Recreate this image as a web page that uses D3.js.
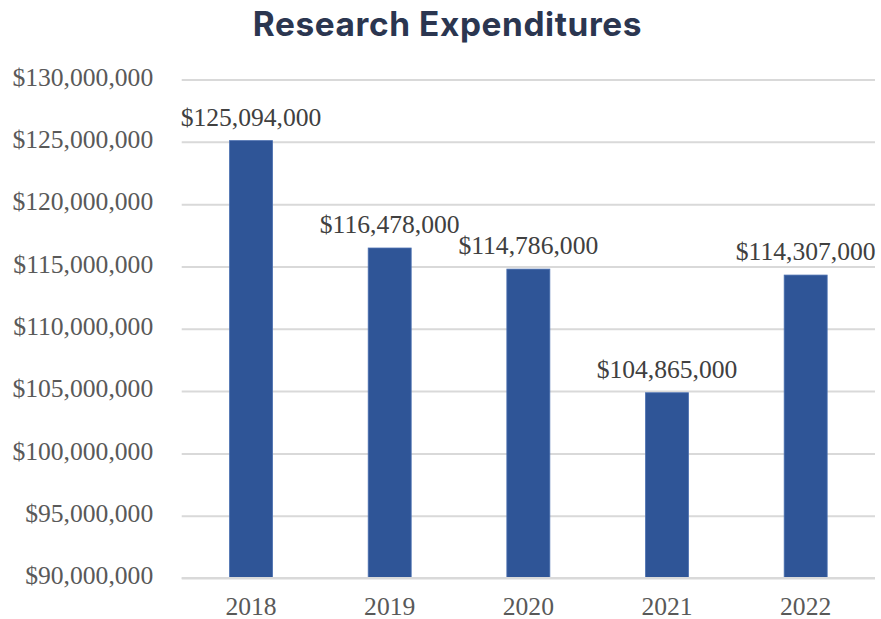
<!DOCTYPE html>
<html>
<head>
<meta charset="utf-8">
<script src="https://cdn.jsdelivr.net/npm/d3@7"></script>
<style>
  html, body { margin: 0; padding: 0; background: #fff; }
  svg { display: block; }
</style>
</head>
<body>
<svg id="chart" width="881" height="619"></svg>
<script>
// Annual research expenditures (USD)
const years = ["2018", "2019", "2020", "2021", "2022"];
const expenditures = [125094000, 116478000, 114786000, 104865000, 114307000];
const yTicks = [90000000, 95000000, 100000000, 105000000, 110000000, 115000000, 120000000, 125000000, 130000000];

const W = 881, H = 619;
const margin = { top: 79.5, right: 6, bottom: 41, left: 181.7 };

const svg = d3.select("#chart");
const serif = "'Liberation Serif', 'Times New Roman', serif";
const labelSize = 25.6;
const money = d3.format("$,");

const x = d3.scaleBand()
  .domain(years)
  .range([margin.left, W - margin.right])
  .paddingInner(0.69)
  .paddingOuter(0.345);

const y = d3.scaleLinear()
  .domain([90000000, 130000000])
  .range([H - margin.bottom, margin.top]);

// Title
svg.append("text")
  .attr("x", 447.5)
  .attr("y", 36)
  .attr("text-anchor", "middle")
  .attr("font-family", "Inter, 'Open Sans', sans-serif")
  .attr("font-weight", 700)
  .attr("font-size", 33.4)
  .attr("letter-spacing", 0.6)
  .attr("fill", "#2b3650")
  .text("Research Expenditures");

// Horizontal gridlines with dollar tick labels
const yAxis = d3.axisLeft(y)
  .tickValues(yTicks)
  .tickSize(-(W - margin.right - margin.left))
  .tickPadding(28.5)
  .tickFormat(money);

const gy = svg.append("g")
  .attr("transform", `translate(${margin.left},0)`)
  .call(yAxis);
gy.select(".domain").remove();
gy.selectAll(".tick line").attr("stroke", "#d9d9d9").attr("stroke-width", 2);
gy.selectAll(".tick text")
  .attr("dy", "0.22em")
  .attr("font-family", serif)
  .attr("font-size", labelSize)
  .attr("fill", "#595959");

// Bars
svg.append("g")
  .selectAll("rect")
  .data(years)
  .join("rect")
  .attr("x", d => x(d))
  .attr("width", x.bandwidth())
  .attr("y", (d, i) => y(expenditures[i]))
  .attr("height", (d, i) => y(90000000) - y(expenditures[i]))
  .attr("fill", "#2f5597")
  .attr("stroke", "#4a6fb0")
  .attr("stroke-width", 0.8);

// Baseline axis with year labels
const xAxis = d3.axisBottom(x).tickSize(0).tickPadding(37);
const gx = svg.append("g")
  .attr("transform", `translate(0,${y(90000000)})`)
  .call(xAxis);
gx.select(".domain").remove();
gx.append("line")
  .attr("x1", margin.left).attr("x2", W - margin.right)
  .attr("stroke", "#d9d9d9").attr("stroke-width", 2);
gx.selectAll(".tick text")
  .attr("dy", "0")
  .attr("font-family", serif)
  .attr("font-size", labelSize)
  .attr("fill", "#595959");

// Value labels above bars
svg.append("g")
  .selectAll("text")
  .data(years)
  .join("text")
  .attr("x", d => x(d) + x.bandwidth() / 2)
  .attr("y", (d, i) => y(expenditures[i]) - 15)
  .attr("text-anchor", "middle")
  .attr("font-family", serif)
  .attr("font-size", labelSize)
  .attr("fill", "#404040")
  .text((d, i) => money(expenditures[i]));
</script>
</body>
</html>
